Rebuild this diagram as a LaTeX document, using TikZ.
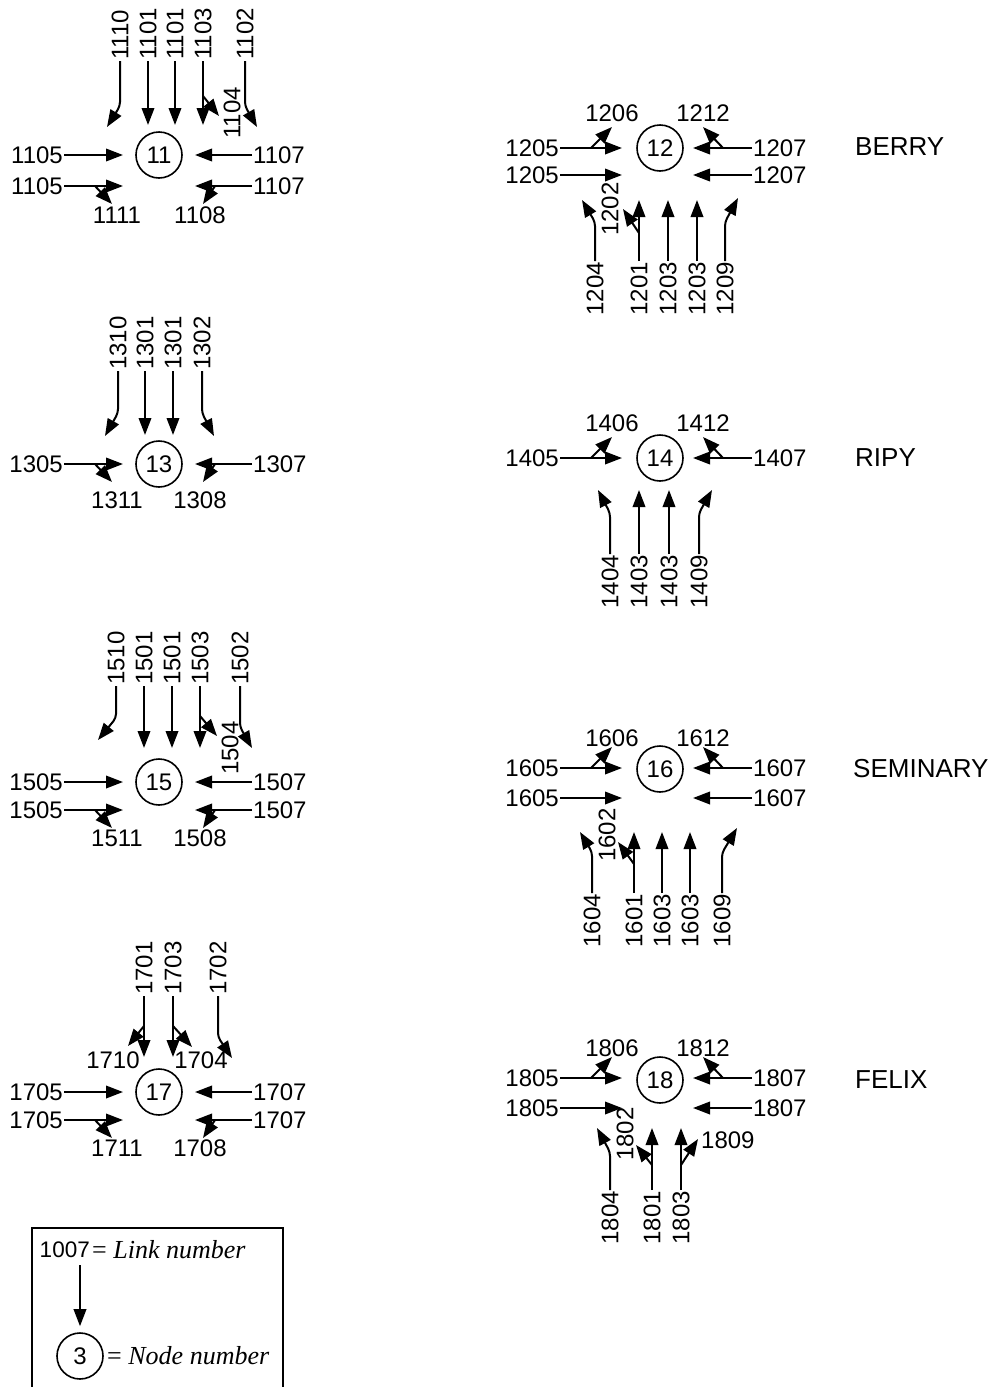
\documentclass[tikz,border=0pt]{standalone}
\usepackage{fontspec}
\setmainfont{Liberation Sans}
\newfontfamily\tms{Liberation Serif}
\usetikzlibrary{arrows.meta,positioning}
\newcommand{\numfont}{\fontsize{24}{28}\selectfont}
\newcommand{\keyfont}{\fontsize{22.5}{26}\selectfont}
\tikzset{
  lbl/.style={font=\numfont,inner sep=1pt},
  vlbl/.style={lbl,rotate=90},
  nd/.style={draw,circle,line width=1.6pt,minimum size=46pt,inner sep=0pt,font=\numfont},
  ar/.style={-{Triangle[length=17pt,width=12.5pt]},line width=2pt},
  bent/.style={ar,rounded corners=4pt},
  town/.style={font=\fontsize{26}{30}\selectfont,anchor=west,inner sep=0pt},
  key/.style={font=\tms\fontsize{26}{30}\selectfont,inner sep=1pt,anchor=west},
}

\begin{document}
\begin{tikzpicture}[x=1pt,y=-1pt]
  \useasboundingbox (0,0) rectangle (996,1387);
  \node[nd] (n11) at (159,155) {11};
  \node[nd] (n13) at (159,464) {13};
  \node[nd] (n15) at (159,782) {15};
  \node[nd] (n17) at (159,1092) {17};
  \node[nd] (n12) at (660,148) {12};
  \node[nd] (n14) at (660,458) {14};
  \node[nd] (n16) at (660,769) {16};
  \node[nd] (n18) at (660,1080) {18};
  \node[town] (berry) at (855,147) {BERRY};
  \node[town] (ripy) at (855,458) {RIPY};
  \node[town] (seminary) at (853,769) {SEMINARY};
  \node[town] (felix) at (855,1080) {FELIX};
  % east and west approaches
  \foreach \n/\y/\t in {11a/155/1105,11b/186/1105,13/464/1305,15a/782/1505,15b/810/1505,17a/1092/1705,17b/1120/1705}{
    \node[lbl,anchor=east] (w\n) at (64,\y) {\t};
    \coordinate (tw\n) at (123,\y);
    \draw[ar] (w\n) -- (tw\n);
  }
  \foreach \n/\y/\t in {11a/155/1107,11b/186/1107,13/464/1307,15a/782/1507,15b/810/1507,17a/1092/1707,17b/1120/1707}{
    \node[lbl,anchor=west] (e\n) at (252,\y) {\t};
    \coordinate (te\n) at (195,\y);
    \draw[ar] (e\n) -- (te\n);
  }
  \foreach \n/\y/\t in {12a/148/1205,12b/175/1205,14/458/1405,16a/768/1605,16b/798/1605,18a/1078/1805,18b/1108/1805}{
    \node[lbl,anchor=east] (w\n) at (560,\y) {\t};
    \coordinate (tw\n) at (622,\y);
    \draw[ar] (w\n) -- (tw\n);
  }
  \foreach \n/\y/\t in {12a/148/1207,12b/175/1207,14/458/1407,16a/768/1607,16b/798/1607,18a/1078/1807,18b/1108/1807}{
    \node[lbl,anchor=west] (e\n) at (752,\y) {\t};
    \coordinate (te\n) at (693,\y);
    \draw[ar] (e\n) -- (te\n);
  }
  % turns off the side approaches
  \foreach \a/\b/\y/\yl in {1111/1108/186/215,1311/1308/464/500,1511/1508/810/838,1711/1708/1120/1148}{
    \coordinate (b\a) at (95,\y);
    \coordinate (t\a) at (112,\y+18);
    \draw[ar] (b\a) -- (t\a);
    \node[lbl] (l\a) at (117,\yl) {\a};
    \coordinate (b\b) at (215,\y);
    \coordinate (t\b) at (203,\y+18);
    \draw[ar] (b\b) -- (t\b);
    \node[lbl] (l\b) at (200,\yl) {\b};
  }
  \foreach \a/\b/\y/\yl in {1206/1212/148/113,1406/1412/458/423,1606/1612/768/738,1806/1812/1078/1048}{
    \coordinate (b\a) at (591,\y);
    \coordinate (t\a) at (612,\y-21);
    \draw[ar] (b\a) -- (t\a);
    \node[lbl] (l\a) at (612,\yl) {\a};
    \coordinate (b\b) at (723,\y);
    \coordinate (t\b) at (703,\y-21);
    \draw[ar] (b\b) -- (t\b);
    \node[lbl] (l\b) at (703,\yl) {\b};
  }
  % north approaches
  \foreach \x/\yb/\yt/\n/\t in {148/61/125/11b/1101,175/61/125/11c/1101,203/61/125/11d/1103,145/371/435/13b/1301,173/371/435/13c/1301,144/686/748/15b/1501,172/686/748/15c/1501,200/686/748/15d/1503,144/996/1057/17b/1701,173/996/1057/17c/1703}{
    \node[vlbl,anchor=west] (u\n) at (\x,\yb) {\t};
    \coordinate (tu\n) at (\x,\yt);
    \draw[ar] (u\n) -- (tu\n);
  }
  \foreach \x/\yb/\yk/\xt/\yt/\n/\t in {120/61/106/107/127/11a/1110,245/61/106/257/127/11e/1102,118/371/413/105/436/13a/1310,202/371/413/214/436/13d/1302,116/686/718/98/740/15a/1510,240/686/727/252/748/15e/1502,218/996/1037/232/1058/17d/1702}{
    \node[vlbl,anchor=west] (u\n) at (\x,\yb) {\t};
    \coordinate (tu\n) at (\xt,\yt);
    \draw[bent] (u\n.west) -- (\x,\yk) -- (tu\n);
  }
  % south approaches
  \foreach \x/\yb/\yt/\n/\t in {639/261/200/12b/1201,668/261/200/12c/1203,697/261/200/12d/1203,639/554/490/14b/1403,669/554/490/14c/1403,634/893/832/16b/1601,662/893/832/16c/1603,690/893/832/16d/1603,652/1190/1128/18b/1801,681/1190/1128/18c/1803}{
    \node[vlbl,anchor=east] (d\n) at (\x,\yb) {\t};
    \coordinate (td\n) at (\x,\yt);
    \draw[ar] (d\n) -- (td\n);
  }
  \foreach \x/\yb/\yk/\xt/\yt/\n/\t in {595/261/222/582/200/12a/1204,725/261/222/738/198/12e/1209,610/554/513/598/490/14a/1404,699/554/513/712/490/14d/1409,592/893/852/580/832/16a/1604,722/893/853/737/828/16e/1609,610/1190/1152/597/1128/18a/1804}{
    \node[vlbl,anchor=east] (d\n) at (\x,\yb) {\t};
    \coordinate (td\n) at (\xt,\yt);
    \draw[bent] (d\n.east) -- (\x,\yk) -- (td\n);
  }
  % turns off the north and south approaches
  \coordinate (b1104) at (203,96);
  \coordinate (t1104) at (219,116);
  \draw[ar] (b1104) -- (t1104);
  \node[vlbl] (l1104) at (232,113) {1104};
  \coordinate (b1504) at (200,716);
  \coordinate (t1504) at (217,736);
  \draw[ar] (b1504) -- (t1504);
  \node[vlbl] (l1504) at (230,748) {1504};
  \coordinate (b1710) at (144,1026);
  \coordinate (t1710) at (128,1046);
  \draw[ar] (b1710) -- (t1710);
  \node[lbl] (l1710) at (113,1060) {1710};
  \coordinate (b1704) at (173,1026);
  \coordinate (t1704) at (192,1047);
  \draw[ar] (b1704) -- (t1704);
  \node[lbl] (l1704) at (201,1060) {1704};
  \coordinate (b1202) at (639,233);
  \coordinate (t1202) at (623,209);
  \draw[ar] (b1202) -- (t1202);
  \node[vlbl] (l1202) at (610,209) {1202};
  \coordinate (b1602) at (634,864);
  \coordinate (t1602) at (618,842);
  \draw[ar] (b1602) -- (t1602);
  \node[vlbl] (l1602) at (607,835) {1602};
  \coordinate (b1802) at (652,1165);
  \coordinate (t1802) at (636,1145);
  \draw[ar] (b1802) -- (t1802);
  \node[vlbl] (l1802) at (625,1134) {1802};
  \coordinate (b1809) at (681,1165);
  \coordinate (t1809) at (698,1139);
  \draw[ar] (b1809) -- (t1809);
  \node[lbl,anchor=west] (l1809) at (700,1140) {1809};
  % key
  \draw[line width=1.2pt] (32,1400) -- (32,1228) -- (283,1228) -- (283,1400);
  \node[lbl,font=\keyfont,anchor=east] (k1007) at (91,1250) {1007};
  \node[key] (klink) at (91,1250) {= \textit{Link number}};
  \node[nd] (k3) at (80,1356) {3};
  \node[key] (knode) at (106,1356) {= \textit{Node number}};
  \draw[ar,shorten <=6pt,shorten >=6pt] (k1007.south -| k3.north) -- (k3.north);
\end{tikzpicture}
\end{document}
